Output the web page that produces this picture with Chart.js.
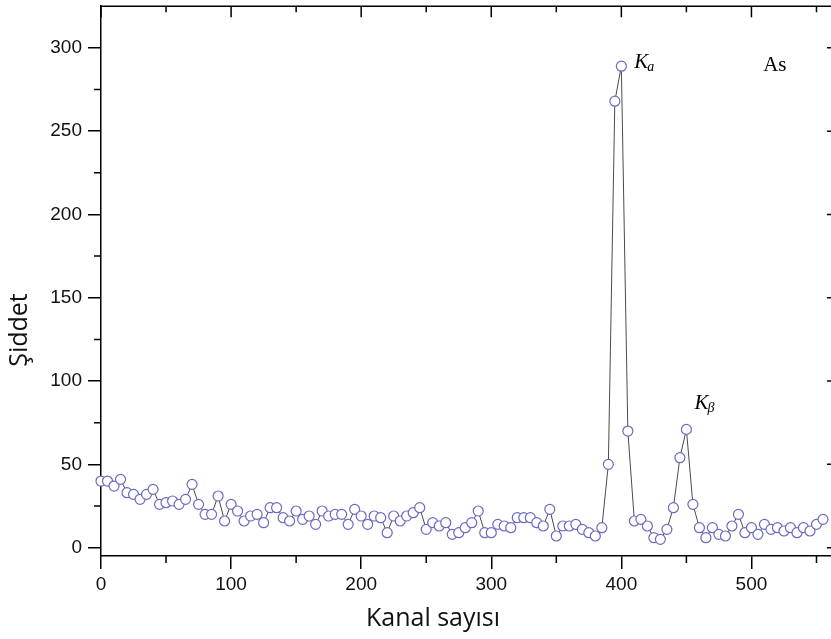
<!DOCTYPE html>
<html>
<head>
<meta charset="utf-8">
<script src="https://cdn.jsdelivr.net/npm/chart.js@4.4.1/dist/chart.umd.min.js"></script>
<style>
  html, body { margin: 0; padding: 0; background: #fff; overflow: hidden; }
  #wrap { width: 845px; height: 639px; }
</style>
</head>
<body>
<div id="wrap"><canvas id="c" width="845" height="639"></canvas></div>
<script>
// ---- data ----
const channels = [
  0, 5, 10, 15, 20, 25, 30, 35, 40, 45, 50, 55, 60, 65, 70, 75, 80, 85, 90, 95,
  100, 105, 110, 115, 120, 125, 130, 135, 140, 145, 150, 155, 160, 165, 170, 175, 180, 185, 190, 195,
  200, 205, 210, 215, 220, 225, 230, 235, 240, 245, 250, 255, 260, 265, 270, 275, 280, 285, 290, 295,
  300, 305, 310, 315, 320, 325, 330, 335, 340, 345, 350, 355, 360, 365, 370, 375, 380, 385, 390, 395,
  400, 405, 410, 415, 420, 425, 430, 435, 440, 445, 450, 455, 460, 465, 470, 475, 480, 485, 490, 495,
  500, 505, 510, 515, 520, 525, 530, 535, 540, 545, 550, 555
];
const intensity = [
  40, 40, 37, 41, 33, 32, 29, 32, 35, 26, 27, 28, 26, 29, 38, 26, 20, 20, 31, 16,
  26, 22, 16, 19, 20, 15, 24, 24, 18, 16, 22, 17, 19, 14, 22, 19, 20, 20, 14, 23,
  19, 14, 19, 18, 9, 19, 16, 19, 21, 24, 11, 15, 13, 15, 8, 9, 12, 15, 22, 9,
  9, 14, 13, 12, 18, 18, 18, 15, 13, 23, 7, 13, 13, 14, 11, 9, 7, 12, 50, 268,
  289, 70, 16, 17, 13, 6, 5, 11, 24, 54, 71, 26, 12, 6, 12, 8, 7, 13, 20, 9,
  12, 8, 14, 11, 12, 10, 12, 9, 12, 10, 14, 17
];
const xTickValues = [0, 100, 200, 300, 400, 500];
const xMinorValues = [50, 150, 250, 350, 450, 550];
const yTickValues = [0, 50, 100, 150, 200, 250, 300];
const yMinorValues = [25, 75, 125, 175, 225, 275];
const xTitle = 'Kanal sayısı';
const yTitle = 'Şiddet';
const peakLabels = [
  { main: 'K', sub: 'a', x: 400, y: 289 },
  { main: 'K', sub: 'β', x: 450, y: 71 }
];
const elementLabel = { text: 'As', x: 509, y: 286 };

const points = channels.map((c, i) => ({ x: c, y: intensity[i] }));

const decorPlugin = {
  id: 'decor',
  afterDraw(chart) {
    const { ctx, chartArea: a, scales: { x, y } } = chart;
    ctx.save();
    ctx.strokeStyle = '#000';
    ctx.lineWidth = 1.5;
    // top and right frame lines
    ctx.beginPath();
    ctx.moveTo(a.left, a.top);
    ctx.lineTo(a.right, a.top);
    ctx.lineTo(a.right, a.bottom);
    ctx.stroke();
    ctx.beginPath();
    // top inward ticks
    xTickValues.forEach(v => { const p = x.getPixelForValue(v); ctx.moveTo(p, a.top); ctx.lineTo(p, a.top + 11); });
    xMinorValues.forEach(v => {
      const p = x.getPixelForValue(v);
      ctx.moveTo(p, a.top); ctx.lineTo(p, a.top + 6);
      ctx.moveTo(p, a.bottom); ctx.lineTo(p, a.bottom + 7);
    });
    // y minor ticks (left outward) and right inward ticks
    yMinorValues.forEach(v => {
      const p = y.getPixelForValue(v);
      ctx.moveTo(a.left, p); ctx.lineTo(a.left - 7, p);
      ctx.moveTo(a.right, p); ctx.lineTo(a.right - 5, p);
    });
    yTickValues.forEach(v => { const p = y.getPixelForValue(v); ctx.moveTo(a.right, p); ctx.lineTo(a.right - 9, p); });
    ctx.stroke();

    // annotations
    ctx.fillStyle = '#000';
    ctx.textBaseline = 'alphabetic';
    ctx.textAlign = 'left';
    peakLabels.forEach((l, i) => {
      const px = x.getPixelForValue(l.x), py = y.getPixelForValue(l.y);
      const kx = i === 0 ? px + 13 : px + 8;
      const ky = i === 0 ? py + 2 : py - 20;
      ctx.font = 'italic 21px "Liberation Serif", "Times New Roman", serif';
      ctx.fillText(l.main, kx, ky);
      const w = ctx.measureText(l.main).width;
      ctx.font = 'italic 14px "Liberation Serif", "Times New Roman", serif';
      ctx.fillText(l.sub, kx + w - 1, ky + 3);
    });
    ctx.font = '21px "Liberation Serif", "Times New Roman", serif';
    ctx.fillText(elementLabel.text, x.getPixelForValue(elementLabel.x), y.getPixelForValue(elementLabel.y));

    // axis titles
    ctx.font = '25px "Open Sans", "Noto Sans", sans-serif';
    ctx.textAlign = 'center';
    ctx.textBaseline = 'middle';
    ctx.fillStyle = '#111';
    ctx.fillText(xTitle, 433, 619);
    ctx.translate(20, 330);
    ctx.rotate(-Math.PI / 2);
    ctx.fillText(yTitle, 0, 0);
    ctx.restore();
  }
};

new Chart(document.getElementById('c'), {
  type: 'line',
  data: {
    datasets: [{
      data: points,
      borderColor: '#4a4a4a',
      borderWidth: 1,
      pointRadius: 5,
      pointBorderWidth: 1.2,
      pointBorderColor: '#6a6ac2',
      pointBackgroundColor: '#ffffff',
      tension: 0,
      clip: false
    }]
  },
  options: {
    responsive: false,
    animation: false,
    layout: { padding: { top: 4, right: 9, left: 0, bottom: 0 } },
    plugins: { legend: { display: false }, tooltip: { enabled: false } },
    scales: {
      x: {
        type: 'linear',
        min: 0,
        max: 565,
        afterBuildTicks: s => { s.ticks = xTickValues.map(v => ({ value: v })); },
        afterFit: s => { s.height = 83; s.paddingLeft = 0; s.paddingRight = 0; },
        ticks: { font: { family: '"Liberation Sans", Arial, sans-serif', size: 19 }, color: '#111', padding: 4, maxRotation: 0 },
        grid: { display: true, drawOnChartArea: false, drawTicks: true, tickLength: 13, color: '#000', lineWidth: 1.5 },
        border: { display: true, color: '#000', width: 1.5 }
      },
      y: {
        type: 'linear',
        min: -5,
        max: 325,
        afterBuildTicks: s => { s.ticks = yTickValues.map(v => ({ value: v })); },
        afterFit: s => { s.width = 101; s.paddingTop = 0; s.paddingBottom = 0; },
        ticks: { font: { family: '"Liberation Sans", Arial, sans-serif', size: 19 }, color: '#111', padding: 6 },
        grid: { display: true, drawOnChartArea: false, drawTicks: true, tickLength: 13, color: '#000', lineWidth: 1.5 },
        border: { display: true, color: '#000', width: 1.5 }
      }
    }
  },
  plugins: [decorPlugin]
});
</script>
</body>
</html>
